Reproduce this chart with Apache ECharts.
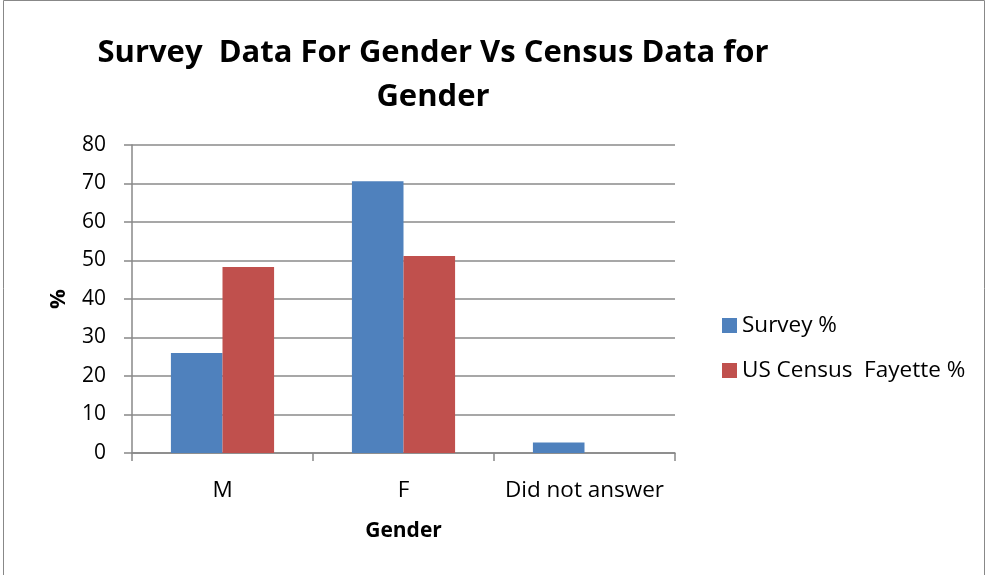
<!DOCTYPE html>
<html><head><meta charset="utf-8">
<script src="https://cdn.jsdelivr.net/npm/echarts@6/dist/echarts.min.js"></script>
<style>html,body{margin:0;padding:0;background:#fff}#c{width:987px;height:575px}</style>
</head><body><div id="c"></div>
<script>
const categories = ['M', 'F', 'Did not answer'];
const surveyValues = [26, 70.6, 2.7];
const censusValues = [48.3, 51.2, 0];
const seriesNames = ['Survey %', 'US Census  Fayette %'];
const yTicks = [0, 80, 10];

const chart = echarts.init(document.getElementById('c'), null, {renderer: 'canvas'});
const font = 'Open Sans, Noto Sans, sans-serif';
chart.setOption({
  animation: false,
  backgroundColor: '#fff',
  graphic: [{type: 'rect', shape: {x: 3.5, y: 0.5, width: 981, height: 580}, style: {fill: 'none', stroke: '#888', lineWidth: 1}}],
  title: {
    text: 'Survey  Data For Gender Vs Census Data for\nGender',
    left: 428, top: 26, textAlign: 'center',
    textStyle: {fontFamily: font, fontWeight: 'bold', fontSize: 31, lineHeight: 44, color: '#000'}
  },
  legend: {
    orient: 'vertical', left: 717, top: 309, itemGap: 22,
    itemWidth: 15, itemHeight: 15, icon: 'rect',
    textStyle: {fontFamily: font, fontSize: 22.5, color: '#000', padding: [0, 0, 0, 0]},
    data: seriesNames
  },
  grid: {left: 132, right: 312, top: 145, bottom: 122, containLabel: false},
  xAxis: {
    type: 'category', data: categories,
    name: 'Gender', nameLocation: 'middle', nameGap: 68,
    nameTextStyle: {fontFamily: font, fontWeight: 'bold', fontSize: 21, color: '#000'},
    axisLine: {lineStyle: {color: '#888', width: 1.5}},
    axisTick: {show: true, length: 8, lineStyle: {color: '#888', width: 1.5}},
    axisLabel: {interval: 0, hideOverlap: false, fontFamily: font, fontSize: 22.5, color: '#000', margin: 26}
  },
  yAxis: {
    type: 'value', min: yTicks[0], max: yTicks[1], interval: yTicks[2],
    name: '%', nameLocation: 'middle', nameGap: 62, nameRotate: 90,
    nameTextStyle: {fontFamily: font, fontWeight: 'bold', fontSize: 22, color: '#000'},
    axisLine: {show: true, lineStyle: {color: '#888', width: 1.5}},
    axisTick: {show: true, length: 8, lineStyle: {color: '#888', width: 1.5}},
    axisLabel: {fontFamily: font, fontSize: 21, color: '#000', margin: 26},
    splitLine: {lineStyle: {color: '#8a8a8a', width: 1.5}}
  },
  series: [
    {name: seriesNames[0], type: 'bar', data: surveyValues, barGap: '0%', barCategoryGap: '43%',
     itemStyle: {color: '#4F81BD'}},
    {name: seriesNames[1], type: 'bar', data: censusValues, barGap: '0%', barCategoryGap: '43%',
     itemStyle: {color: '#C0504D'}}
  ]
});
</script></body></html>
